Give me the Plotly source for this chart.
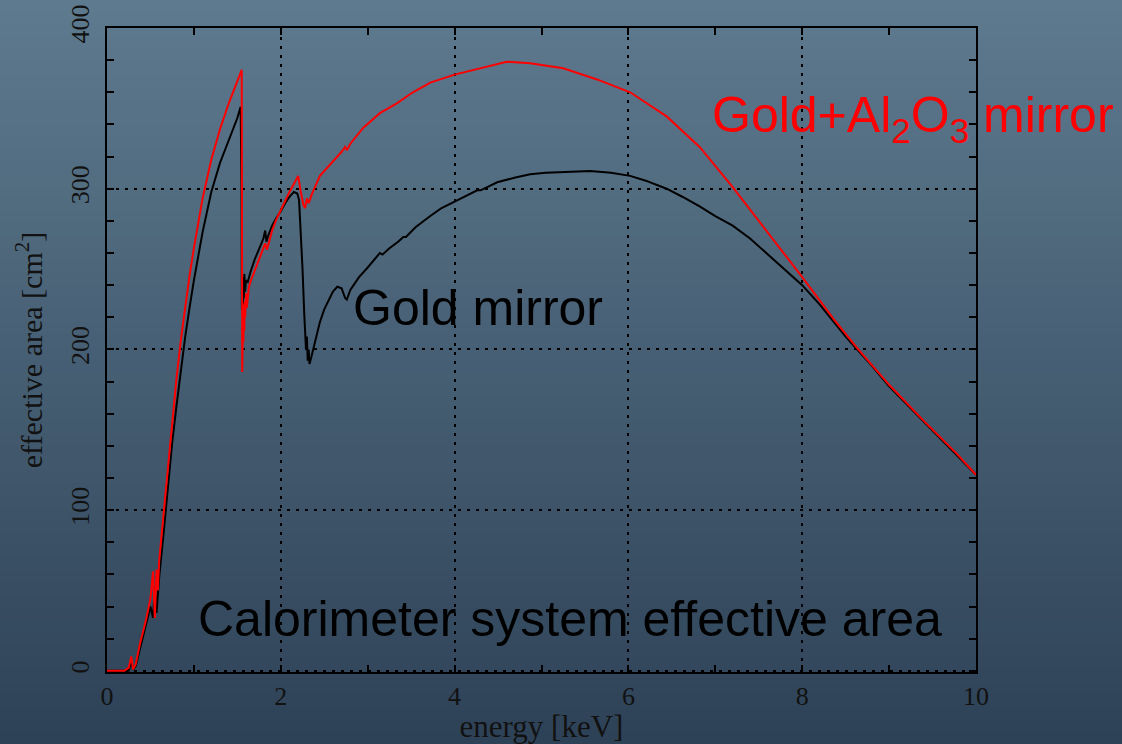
import plotly.graph_objects as go

# ---- data ----
gold_energy = [0.0, 0.25, 0.28, 0.30, 0.33, 0.38, 0.45, 0.50, 0.53, 0.55, 0.57, 0.60, 0.65, 0.70, 0.75,
               0.80, 0.85, 0.90, 0.95, 1.00, 1.10, 1.20, 1.30, 1.40, 1.50, 1.538, 1.548, 1.552, 1.56,
               1.565, 1.57, 1.575, 1.58, 1.59, 1.60, 1.62, 1.65, 1.70, 1.75, 1.80, 1.82, 1.835, 1.85,
               1.90, 1.95, 2.00, 2.05, 2.10, 2.15, 2.19, 2.21, 2.23, 2.25, 2.27, 2.29, 2.30, 2.31, 2.32,
               2.33, 2.35, 2.40, 2.45, 2.50, 2.55, 2.60, 2.65, 2.70, 2.74, 2.76, 2.80, 2.90, 3.00, 3.10,
               3.14, 3.17, 3.25, 3.35, 3.41, 3.44, 3.55, 3.72, 3.85, 4.00, 4.15, 4.26, 4.30, 4.49, 4.70,
               4.87, 5.05, 5.25, 5.56, 5.80, 6.02, 6.20, 6.44, 6.62, 6.82, 7.00, 7.20, 7.40, 7.59, 7.80,
               8.00, 8.20, 8.36, 8.50, 8.63, 8.80, 9.00, 9.20, 9.39, 9.60, 9.78, 10.0]
gold_area = [0, 0, 6, 1, 3, 14, 28, 40, 33, 52, 36, 58, 85, 114, 142,
             165, 188, 208, 226, 243, 273, 298, 316, 330, 344, 351, 300, 225, 240,
             228, 245, 232, 247, 236, 243, 242, 248, 256, 263, 269, 274, 267, 270,
             277, 282, 286, 291, 295, 298, 297, 293, 275, 250, 222, 200, 208, 193, 200,
             191, 195, 207, 217, 225, 231, 236, 239, 238, 232, 231, 237, 245, 251, 257,
             260, 259, 263, 267, 270, 270, 276, 283, 288, 292, 296, 299, 299, 304, 307,
             309, 310, 310.5, 311, 310, 308, 305, 300, 295, 289, 283, 277, 269, 260, 250,
             240, 228, 217, 208, 200, 190, 177, 166, 155, 144, 134, 122]

al2o3_energy = [0.0, 0.20, 0.25, 0.28, 0.30, 0.33, 0.38, 0.45, 0.50, 0.53, 0.55, 0.57, 0.585, 0.60,
                0.65, 0.70, 0.75, 0.80, 0.85, 0.90, 0.95, 1.00, 1.05, 1.10, 1.20, 1.30, 1.40, 1.50,
                1.55, 1.553, 1.556, 1.565, 1.57, 1.575, 1.58, 1.585, 1.59, 1.60, 1.61, 1.63, 1.65,
                1.70, 1.75, 1.80, 1.82, 1.84, 1.87, 1.90, 1.95, 2.00, 2.05, 2.10, 2.15, 2.20, 2.23,
                2.26, 2.28, 2.30, 2.32, 2.36, 2.45, 2.55, 2.64, 2.70, 2.74, 2.76, 2.80, 2.95, 3.14,
                3.33, 3.52, 3.72, 4.00, 4.29, 4.60, 4.87, 5.25, 5.64, 6.02, 6.44, 6.82, 7.20, 7.59,
                8.00, 8.36, 8.63, 9.00, 9.39, 9.78, 10.0]
al2o3_area = [0, 0, 2, 9, 1, 4, 17, 32, 45, 62, 33, 63, 50, 68,
              97, 127, 156, 182, 206, 227, 246, 263, 279, 294, 318, 337, 353, 367,
              374, 300, 186, 215, 205, 228, 212, 230, 220, 235, 226, 238, 242,
              249, 256, 263, 266, 262, 268, 274, 281, 287, 293, 298, 303, 308, 298,
              290, 288, 294, 291, 297, 308, 314, 319, 323, 326, 324, 328, 338, 347,
              353, 360, 366, 371, 375, 379, 378, 375, 368, 360, 345, 326, 301, 274,
              245, 219, 201, 178, 156, 135, 122]

x_ticks = [0, 2, 4, 6, 8, 10]
y_ticks = [0, 100, 200, 300, 400]

# ---- figure ----
W, H = 1122, 744
L, R, T, B = 107, 146, 28, 72
pw, ph = W - L - R, H - T - B

fig = go.Figure()
fig.add_trace(go.Scatter(x=gold_energy, y=gold_area, mode="lines",
                         line=dict(color="black", width=2), name="Gold mirror"))
fig.add_trace(go.Scatter(x=al2o3_energy, y=al2o3_area, mode="lines",
                         line=dict(color="#ff0000", width=2), name="Gold+Al2O3 mirror"))

# vertical background gradient made of thin bands
top = (94, 122, 142)
bot = (46, 66, 87)
n = 60
shapes = []
for i in range(n):
    f = i / (n - 1)
    c = tuple(round(top[k] + (bot[k] - top[k]) * f) for k in range(3))
    y0px = i * H / n
    y1px = (i + 1) * H / n + 1
    shapes.append(dict(type="rect", xref="paper", yref="paper", layer="below",
                       x0=-L / pw - 0.01, x1=(W - L) / pw + 0.01,
                       y0=(H - B - y1px) / ph, y1=(H - B - y0px) / ph,
                       line=dict(width=0), fillcolor="rgb(%d,%d,%d)" % c))

serif = "Liberation Serif, Times New Roman, serif"
sans = "Liberation Sans, Arial, sans-serif"

fig.update_layout(
    width=W, height=H, margin=dict(l=L, r=R, t=T, b=B, autoexpand=False),
    paper_bgcolor="rgb(70,95,115)", plot_bgcolor="rgba(0,0,0,0)",
    showlegend=False, shapes=shapes,
    xaxis=dict(range=[0, 10], tickvals=x_ticks, ticktext=[str(v) for v in x_ticks],
               ticks="inside", ticklen=7, tickwidth=2, tickcolor="black", automargin=False,
               minor=dict(dtick=1, ticks="inside", ticklen=7, tickwidth=2, tickcolor="black", showgrid=False),
               showline=True, linecolor="black", linewidth=2, mirror="ticks",
               showgrid=True, gridcolor="black", gridwidth=2, griddash="3px,6px",
               zeroline=False, ticklabelstandoff=0, layer="below traces",
               tickfont=dict(family=serif, size=26, color="#111"),
               title=dict(text="energy [keV]", font=dict(family=serif, size=31, color="#111"), standoff=10)),
    yaxis=dict(range=[-0.7, 400], tickvals=y_ticks, ticktext=[str(v) for v in y_ticks],
               ticks="inside", ticklen=7, tickwidth=2, tickcolor="black", tickangle=-90, automargin=False,
               minor=dict(dtick=20, ticks="inside", ticklen=7, tickwidth=2, tickcolor="black", showgrid=False),
               showline=True, linecolor="black", linewidth=2, mirror="ticks",
               showgrid=True, gridcolor="black", gridwidth=2, griddash="3px,6px",
               zeroline=False, ticklabelstandoff=6, layer="below traces",
               tickfont=dict(family=serif, size=26, color="#111"),
               title=dict(text="effective area [cm<sup>2</sup>]", font=dict(family=serif, size=30, color="#111"), standoff=14)),
    annotations=[
        dict(text="Gold+Al<sub>2</sub>O<sub>3</sub> mirror", x=9.27, y=344, xref="x", yref="y",
             showarrow=False, font=dict(family=sans, size=50, color="#ff0000"),
             xanchor="center", yanchor="middle"),
        dict(text="Gold mirror", x=4.27, y=226, xref="x", yref="y",
             showarrow=False, font=dict(family=sans, size=50, color="black"),
             xanchor="center", yanchor="middle"),
        dict(text="Calorimeter system effective area", x=5.33, y=32, xref="x", yref="y",
             showarrow=False, font=dict(family=sans, size=50, color="black"),
             xanchor="center", yanchor="middle"),
    ],
)

fig.write_html("out.html", config={"displayModeBar": False},
               post_script="document.body.style.margin='0px';document.body.style.overflow='hidden';")
